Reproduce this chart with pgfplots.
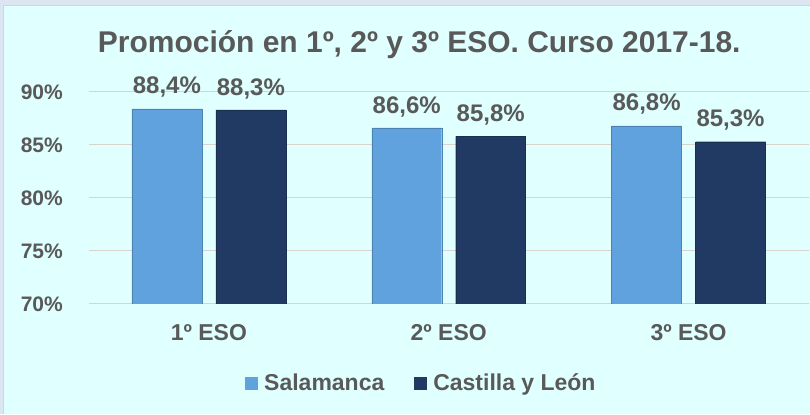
\documentclass[border=0pt]{standalone}
\usepackage{pgfplots}
\pgfplotsset{compat=1.18}
\usepackage{fontspec}
\setmainfont{Liberation Sans}
\definecolor{outerbg}{RGB}{220,230,242}
\definecolor{innerbg}{RGB}{224,255,255}
\definecolor{framec}{RGB}{214,214,200}
\definecolor{txt}{RGB}{89,89,89}
\definecolor{sal}{RGB}{95,162,221}
\definecolor{cyl}{RGB}{33,58,99}
\definecolor{gridc}{RGB}{217,210,205}
\begin{document}
\begin{tikzpicture}[x=1pt,y=1pt]
\fill[outerbg] (0,0) rectangle (810,414);
\fill[innerbg] (3,0) rectangle (810,409);
\draw[framec, line width=1pt] (3.5,0) -- (3.5,408.5) -- (810,408.5);
\node[anchor=base, font=\fontsize{30}{36}\selectfont\bfseries, text=txt, inner sep=0pt] at (419.5,361) {Promoción en 1º, 2º y 3º ESO. Curso 2017-18.};
\begin{axis}[
 at={(89pt,110pt)}, anchor=south west,
 scale only axis, width=720pt, height=212pt,
 ybar, bar width=70pt,
 xmin=-0.5, xmax=2.5, ymin=70, ymax=90,
 xtick={0,1,2}, xticklabels={1º ESO,2º ESO,3º ESO},
 ytick={70,75,80,85,90}, yticklabels={70\%,75\%,80\%,85\%,90\%},
 ymajorgrids, major grid style={gridc, line width=1pt},
 axis line style={draw=none}, major tick length=0pt,
 tick style={draw=none},
 xticklabel style={font=\fontsize{23}{27}\selectfont\bfseries, text=txt, anchor=north, inner sep=0pt, yshift=-20pt},
 yticklabel style={font=\fontsize{21}{25}\selectfont\bfseries, text=txt, anchor=east, inner sep=0pt, xshift=-26pt},
 point meta=explicit symbolic,
 nodes near coords,
 every node near coord/.append style={font=\fontsize{24}{28}\selectfont\bfseries, text=txt, anchor=south, inner sep=0pt, yshift=11pt},
 legend style={at={(0.462,-0.373)}, anchor=center, draw=none, fill=none, font=\fontsize{23}{27}\selectfont\bfseries, text=txt, legend columns=2, /tikz/every even column/.append style={column sep=28pt}},
 legend image code/.code={\fill[#1, draw=none] (0pt,-7pt) rectangle (13pt,6pt); \path[draw=none, fill=none] (17pt,0pt);},
]
\addplot[fill=sal, draw=sal!80!black, bar shift=-42pt] coordinates {(0,88.4) [88,4\%] (1,86.6) [86,6\%] (2,86.8) [86,8\%]};
\addplot[fill=cyl, draw=cyl!80!black, bar shift=42pt] coordinates {(0,88.3) [88,3\%] (1,85.8) [85,8\%] (2,85.3) [85,3\%]};
\legend{Salamanca, Castilla y León}
\end{axis}
\end{tikzpicture}
\end{document}
